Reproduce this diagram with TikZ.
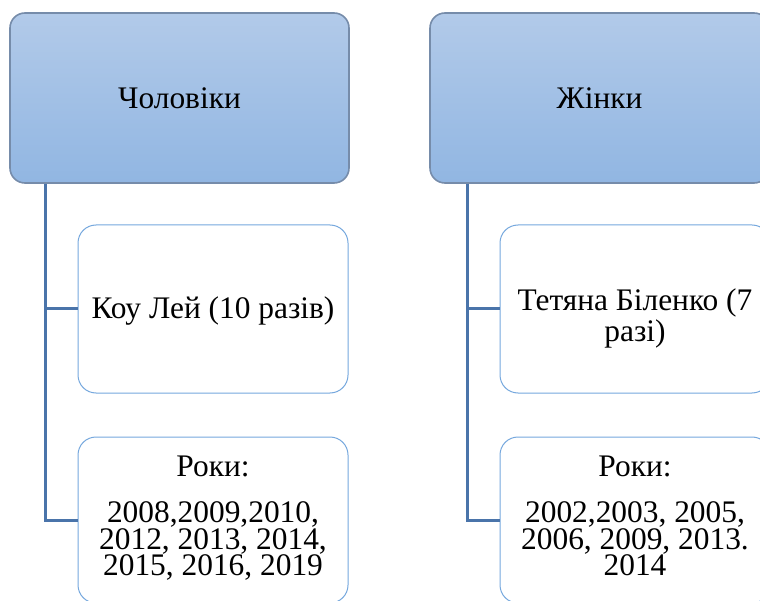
\documentclass[tikz,border=0pt]{standalone}
\usepackage{fontspec}
\setmainfont{Liberation Serif}
\usetikzlibrary{positioning}

\definecolor{headtop}{RGB}{178,202,233}
\definecolor{headbot}{RGB}{145,182,226}
\definecolor{headline}{RGB}{118,140,170}
\definecolor{itemline}{RGB}{118,168,222}
\definecolor{linkline}{RGB}{74,116,170}

\tikzstyle{head}=[shape=rectangle,rounded corners=15pt,draw=headline,line width=1.6pt,
    top color=headtop,bottom color=headbot,minimum width=339pt,minimum height=170pt,
    font=\fontsize{31.4}{26.7}\selectfont]
\tikzstyle{item}=[shape=rectangle,rounded corners=18pt,draw=itemline,line width=1pt,
    fill=white,minimum width=270pt,align=center,font=\fontsize{31.4}{26.7}\selectfont]
\tikzstyle{link}=[draw=linkline,line width=3pt]

\begin{document}
\begin{tikzpicture}[x=1pt,y=-1pt]
        \useasboundingbox (0,0) rectangle (760,601);
        % top boxes
        \node[head] (men) at (179.5,98) {Чоловіки};
        \node[head] (women) at (599.5,98) {Жінки};
        % stems
        \coordinate (men-stem) at (45,0);
        \coordinate (women-stem) at (467,0);
        % items
        \node[item,minimum height=168pt] (men-name) at (213,309)
            {\rule{0pt}{26pt}Коу Лей (10 разів)};
        \node[item,minimum height=166pt] (men-years) at (213,520)
            {Роки:\\[19pt]2008,2009,2010,\\2012, 2013, 2014,\\2015, 2016, 2019\strut};
        \node[item,minimum height=168pt] (women-name) at (635,309)
            {\rule{0pt}{41pt}Тетяна Біленко (7\\[1.3pt]разі)};
        \node[item,minimum height=166pt] (women-years) at (635,520)
            {Роки:\\[19pt]2002,2003, 2005,\\2006, 2009, 2013.\\2014\strut};
        % links
        \draw[link] (men.south -| men-stem) |- (men-name.west);
        \draw[link] (men.south -| men-stem) |- (men-years.west);
        \draw[link] (women.south -| women-stem) |- (women-name.west);
        \draw[link] (women.south -| women-stem) |- (women-years.west);
    \end{tikzpicture}
\end{document}
